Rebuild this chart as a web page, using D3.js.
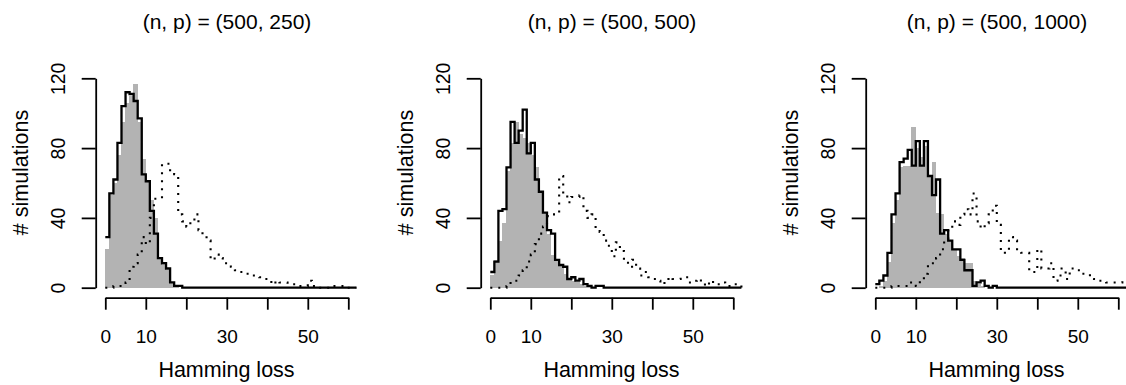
<!doctype html>
<html>
<head>
<meta charset="utf-8"/>
<title>Hamming loss histograms</title>
<script src="https://cdnjs.cloudflare.com/ajax/libs/d3/7.8.5/d3.min.js"></script>
<style>
  body { margin: 0; background: #fff; }
  svg text { font-family: "Liberation Sans", Arial, Helvetica, sans-serif; fill: #000; }
</style>
</head>
<body>
<svg id="chart" width="1126" height="385"></svg>
<script>
// panel titles
var titles = ["(n, p) = (500, 250)", "(n, p) = (500, 500)", "(n, p) = (500, 1000)"];

// axis ticks
var xTicks = [0, 10, 20, 30, 40, 50, 60];
var xTickLabels = [0, 10, 30, 50];
var yTicks = [0, 40, 80, 120];

// counts per Hamming loss value 0..62 (gray bars, solid step, dotted step)
var bars1 = [22,53,60,76,95,106,110,117,95,74,61,50,40,17,13,10,3,1,0,0,0,0,0,0,0,0,0,0,0,0,0,0,0,0,0,0,0,0,0,0,0,0,0,0,0,0,0,0,0,0,0,0,0,0,0,0,0,0,0,0,0,0,0];
var solid1 = [29,54,62,83,104,112,111,107,97,65,61,44,31,17,14,11,3,1,1,0,0,0,0,0,0,0,0,0,0,0,0,0,0,0,0,0,0,0,0,0,0,0,0,0,0,0,0,0,0,0,0,0,0,0,0,0,0,0,0,0,0,0,0];
var dotted1 = [0,0,1,1,1,3,12,14,19,29,25,40,51,51,71,71,66,65,42,38,35,38,42,33,30,27,16,19,17,14,14,12,10,9,8,8,7,7,6,5,5,2,4,3,3,2,2,1,1,1,4,1,0,0,0,0,1,1,1,0,0,0,0];

var bars2 = [7,16,27,37,67,83,95,88,86,83,76,69,54,43,31,19,16,13,8,5,4,3,2,1,1,0,0,0,0,0,0,0,0,0,0,0,0,0,0,0,0,0,0,0,0,0,0,0,0,0,0,0,0,0,0,0,0,0,0,0,0,0,0];
var solid2 = [9,15,44,45,69,95,83,90,102,77,83,62,55,43,33,31,16,13,12,5,6,4,5,2,1,0,1,1,0,0,0,0,0,0,0,0,0,0,0,0,0,0,0,0,0,0,0,0,0,0,0,0,0,0,0,0,0,0,0,0,0,0,0];
var dotted2 = [0,0,0,0,1,4,4,7,10,15,19,25,31,35,41,42,42,64,54,49,52,52,53,44,40,42,34,32,27,24,18,26,21,15,12,16,11,7,9,6,5,4,2,5,6,5,5,6,6,3,4,5,3,1,4,2,2,3,1,1,2,2,0];

var bars3 = [0,1,4,15,37,50,69,70,70,92,80,75,81,64,72,43,42,31,27,22,18,17,14,14,4,2,1,0,0,0,0,0,0,0,0,0,0,0,0,0,0,0,0,0,0,0,0,0,0,0,0,0,0,0,0,0,0,0,0,0,0,0,0];
var solid3 = [2,4,7,20,42,54,72,74,79,70,84,70,84,64,53,62,31,33,27,22,22,16,10,10,1,3,4,1,0,1,0,0,0,0,0,0,0,0,0,0,0,0,0,0,0,0,0,0,0,0,0,0,0,0,0,0,0,0,0,0,0,0,0];
var dotted3 = [0,0,0,0,1,1,1,1,3,3,1,4,8,14,14,17,22,27,33,38,36,42,45,42,54,38,34,37,42,47,36,21,20,29,27,21,20,20,9,9,22,11,11,14,4,7,11,5,11,10,10,8,8,5,4,4,4,3,3,3,3,4,4];

var panels = [
  {title: titles[0], bars: bars1, solid: solid1, dotted: dotted1},
  {title: titles[1], bars: bars2, solid: solid2, dotted: dotted2},
  {title: titles[2], bars: bars3, solid: solid3, dotted: dotted3}
];

var svg = d3.select("#chart");
var panelStep = 385;

var y = d3.scaleLinear().domain([0, 120]).range([287.7, 78.3]);

panels.forEach(function (p, i) {
  var off = panelStep * i;
  var x = d3.scaleLinear().domain([0, 60]).range([105.3 + off, 348.3 + off]);
  var g = svg.append("g");

  // gray histogram bars, one per integer value
  g.selectAll("rect.bar")
    .data(p.bars.filter(function (d) { return d > 0; }).length ? p.bars : [])
    .enter().append("rect")
    .attr("class", "bar")
    .attr("x", function (d, k) { return x(k) - 0.3; })
    .attr("width", function (d, k) { return x(k + 1) - x(k) + 0.6; })
    .attr("y", function (d) { return y(d); })
    .attr("height", function (d) { return y(0) - y(d); })
    .attr("fill", "#b3b3b3")
    .attr("shape-rendering", "crispEdges");

  var step = d3.line()
    .x(function (d, k) { return x(k); })
    .y(function (d) { return y(d); })
    .curve(d3.curveStepAfter);

  g.append("path")
    .attr("d", step(p.dotted))
    .attr("fill", "none")
    .attr("stroke", "#000")
    .attr("stroke-width", 2.1)
    .attr("stroke-dasharray", "2 6");

  g.append("path")
    .attr("d", step(p.solid))
    .attr("fill", "none")
    .attr("stroke", "#000")
    .attr("stroke-width", 2.3)
    .attr("stroke-linejoin", "miter");

  // y axis
  var yAxis = d3.axisLeft(y).tickValues(yTicks).tickSize(14).tickSizeOuter(0);
  var ya = g.append("g")
    .attr("transform", "translate(" + (95.7 + off) + ",0)")
    .call(yAxis);
  ya.selectAll("text")
    .attr("x", null).attr("dy", null)
    .attr("transform", "translate(-31.2,0) rotate(-90)")
    .attr("text-anchor", "middle")
    .style("font-size", "19.5px");

  // x axis
  var xAxis = d3.axisBottom(x).tickValues(xTicks).tickSize(12).tickSizeOuter(0)
    .tickFormat(function (d) { return xTickLabels.indexOf(d) >= 0 ? d : ""; });
  var xa = g.append("g")
    .attr("transform", "translate(0,297.7)")
    .call(xAxis);
  xa.selectAll("text")
    .attr("y", 45.6).attr("dy", null)
    .style("font-size", "19px");

  [ya, xa].forEach(function (a) {
    a.select(".domain").attr("stroke", "#000").attr("stroke-width", 1.8);
    a.selectAll(".tick line").attr("stroke", "#000").attr("stroke-width", 1.8);
    a.attr("font-family", null).attr("font-size", null);
  });

  g.append("text")
    .attr("x", 227 + off).attr("y", 28.5)
    .attr("text-anchor", "middle")
    .style("font-size", "21px")
    .text(p.title);

  g.append("text")
    .attr("x", 226.5 + off).attr("y", 376.5)
    .attr("text-anchor", "middle")
    .style("font-size", "21.5px")
    .text("Hamming loss");

  g.append("text")
    .attr("transform", "translate(" + (28 + off) + ",172.5) rotate(-90)")
    .attr("text-anchor", "middle")
    .style("font-size", "21.5px")
    .text("# simulations");
});
</script>
</body>
</html>
